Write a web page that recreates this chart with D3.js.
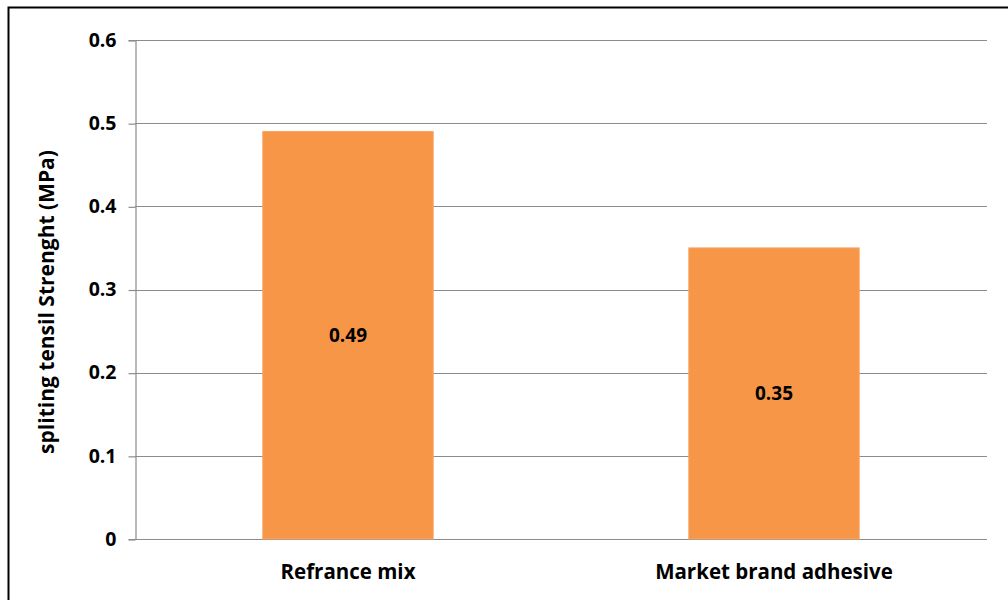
<!DOCTYPE html>
<html>
<head>
<meta charset="utf-8">
<script src="https://cdn.jsdelivr.net/npm/d3@7"></script>
<style>
  body { margin: 0; background: #fff; }
  text { font-family: "Open Sans", sans-serif; font-weight: bold; fill: #000; }
</style>
</head>
<body>
<div id="chart"></div>
<script>
var categories = ["Refrance mix", "Market brand adhesive"];
var values = [0.49, 0.35];
var yTicks = [0, 0.1, 0.2, 0.3, 0.4, 0.5, 0.6];
var yTitle = "spliting tensil Strenght (MPa)";

var w = 1008, h = 600;
var margin = {top: 40, right: 21, bottom: 61, left: 135};

var svg = d3.select("#chart")
    .append("svg")
    .attr("width", w)
    .attr("height", h);

// outer frame
svg.append("rect")
    .attr("x", 8.5).attr("y", 7.5)
    .attr("width", 1010).attr("height", 600)
    .attr("fill", "none")
    .attr("stroke", "#000")
    .attr("stroke-width", 2);

var x = d3.scaleBand()
    .domain(categories)
    .range([margin.left, w - margin.right])
    .paddingInner(0.6)
    .paddingOuter(0.3);

var y = d3.scaleLinear()
    .domain([0, 0.6])
    .range([h - margin.bottom, margin.top]);

// gridlines
svg.append("g")
    .selectAll("line")
    .data(yTicks)
    .enter().append("line")
    .attr("x1", margin.left)
    .attr("x2", w - margin.right)
    .attr("y1", function(d) { return Math.round(y(d)) + 0.5; })
    .attr("y2", function(d) { return Math.round(y(d)) + 0.5; })
    .attr("stroke", "#8c8c8c")
    .attr("stroke-width", 1.2);

// y axis
var yAxis = svg.append("g")
    .attr("transform", "translate(" + (margin.left + 0.5) + ",0)")
    .call(d3.axisLeft(y).tickValues(yTicks).tickSize(7).tickPadding(12)
        .tickFormat(function(d) { return d === 0 ? "0" : d3.format(".1f")(d); }));
yAxis.select(".domain").attr("stroke", "#8c8c8c").attr("stroke-width", 1.2);
yAxis.selectAll(".tick line").attr("stroke", "#8c8c8c").attr("stroke-width", 1.2)
    .attr("transform", "translate(0,0.5)");
yAxis.selectAll(".tick text")
    .style("font-size", "19.5px")
    .style("font-family", "'Open Sans', sans-serif")
    .style("font-weight", "bold")
    .attr("fill", "#000");

// bars
svg.append("g")
    .selectAll("rect")
    .data(values)
    .enter().append("rect")
    .attr("x", function(d, i) { return x(categories[i]); })
    .attr("y", function(d) { return y(d); })
    .attr("width", x.bandwidth())
    .attr("height", function(d) { return y(0) - y(d); })
    .attr("fill", "#f79646")
    .attr("stroke", "#f8a667")
    .attr("stroke-width", 1);

// data labels
svg.append("g")
    .selectAll("text")
    .data(values)
    .enter().append("text")
    .attr("x", function(d, i) { return x(categories[i]) + x.bandwidth() / 2; })
    .attr("y", function(d) { return (y(d) + y(0)) / 2; })
    .attr("dy", "0.35em")
    .attr("text-anchor", "middle")
    .style("font-size", "19px")
    .text(function(d) { return d.toFixed(2); });

// category labels
svg.append("g")
    .selectAll("text")
    .data(categories)
    .enter().append("text")
    .attr("x", function(d) { return x(d) + x.bandwidth() / 2; })
    .attr("y", 572)
    .attr("dy", "0.35em")
    .attr("text-anchor", "middle")
    .style("font-size", "20.5px")
    .text(function(d) { return d; });

// y title
svg.append("text")
    .attr("transform", "translate(47,302) rotate(-90)")
    .attr("text-anchor", "middle")
    .attr("dy", "0.35em")
    .style("font-size", "21px")
    .text(yTitle);
</script>
</body>
</html>
